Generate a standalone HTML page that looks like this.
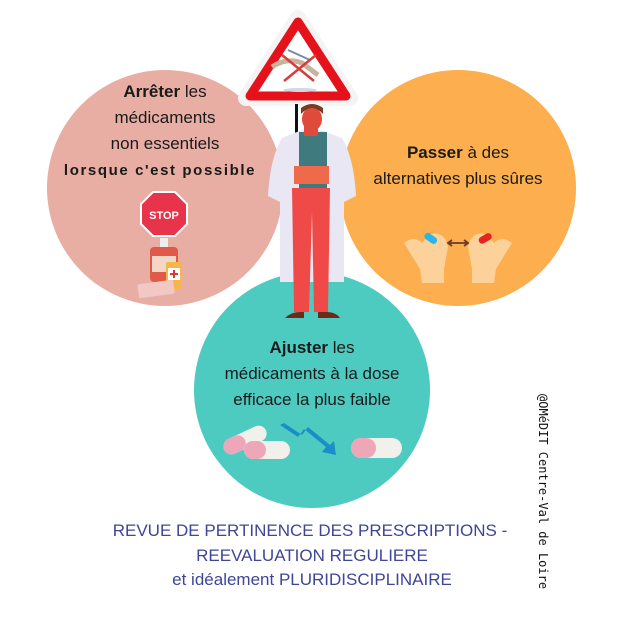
<!DOCTYPE html>
<html><head><meta charset="utf-8"><style>
html,body{margin:0;padding:0;background:#fff;width:628px;height:630px;overflow:hidden}
svg{display:block}
.t{font-family:"Liberation Sans",sans-serif;fill:#1a1a1a}
</style></head><body>
<svg width="628" height="630" viewBox="0 0 628 630" xmlns="http://www.w3.org/2000/svg">
<circle cx="165" cy="188" r="118" fill="#e8ada3"/>
<circle cx="458" cy="188" r="118" fill="#fdae4f"/>
<circle cx="312" cy="390" r="118" fill="#4ecbc1"/>

<!-- left text -->
<text class="t" x="165" y="97" font-size="17" text-anchor="middle"><tspan font-weight="bold">Arrêter</tspan> les</text>
<text class="t" x="165" y="123" font-size="17" text-anchor="middle">médicaments</text>
<text class="t" x="165" y="149" font-size="17" text-anchor="middle">non essentiels</text>
<text class="t" x="160" y="175" font-size="15" font-weight="bold" letter-spacing="1.6" text-anchor="middle">lorsque c'est possible</text>
<!-- stop sign -->
<polygon points="153,192 175,192 187,204 187,224 175,236 153,236 141,224 141,204" fill="#e8344a" stroke="#fff" stroke-width="2"/>
<text x="164" y="219" font-family="Liberation Sans,sans-serif" font-size="11" font-weight="bold" fill="#fff" text-anchor="middle">STOP</text>
<rect x="160" y="238" width="8" height="10" fill="#eee"/>
<rect x="150" y="247" width="28" height="35" rx="4" fill="#e05a4a"/>
<rect x="152" y="256" width="24" height="16" fill="#f3d6c6"/>
<rect x="166" y="262" width="16" height="28" rx="2" fill="#f7b64a"/>
<rect x="168" y="268" width="12" height="12" fill="#fff"/>
<path d="M174 270v8M170 274h8" stroke="#e0343a" stroke-width="2"/>
<rect x="138" y="282" width="36" height="14" rx="2" fill="#f1c8c4" transform="rotate(-8 156 289)"/>

<!-- right text -->
<text class="t" x="458" y="158" font-size="17" text-anchor="middle"><tspan font-weight="bold">Passer</tspan> à des</text>
<text class="t" x="458" y="184" font-size="17" text-anchor="middle">alternatives plus sûres</text>
<!-- hands -->
<g fill="#fcd19a">
<path d="M404 243 q10 -8 18 0 l6 -8 q16 -6 20 12 l-4 22 v14 h-22 l-2 -14 z"/>
<path d="M512 243 q-10 -8 -18 0 l-6 -8 q-16 -6 -20 12 l4 22 v14 h22 l2 -14 z"/>
</g>
<rect x="424" y="235" width="14" height="7" rx="3.5" fill="#29b6e8" transform="rotate(35 431 238)"/>
<rect x="478" y="235" width="14" height="7" rx="3.5" fill="#e52420" transform="rotate(-30 485 238)"/>
<path d="M448 243h20M452 240l-4 3 4 3M464 240l4 3-4 3" stroke="#6b3a2a" stroke-width="1.8" fill="none"/>

<!-- bottom text -->
<text class="t" x="312" y="353" font-size="17" text-anchor="middle"><tspan font-weight="bold">Ajuster</tspan> les</text>
<text class="t" x="312" y="379" font-size="17" text-anchor="middle">médicaments à la dose</text>
<text class="t" x="312" y="405" font-size="17" text-anchor="middle">efficace la plus faible</text>
<!-- pills -->
<g transform="rotate(-25 245 440)"><rect x="222" y="432" width="46" height="16" rx="8" fill="#f1f0ea"/><rect x="222" y="432" width="23" height="16" rx="8" fill="#eea7b8"/></g>
<rect x="244" y="441" width="46" height="18" rx="9" fill="#f1f0ea"/><rect x="244" y="441" width="22" height="18" rx="9" fill="#eea7b8"/>
<rect x="351" y="438" width="51" height="20" rx="10" fill="#f1f0ea"/><rect x="351" y="438" width="25" height="20" rx="10" fill="#eea7b8"/>
<path d="M280 425 l18 12 l6 -8 l22 18 l-4 5 l14 3 l-2 -14 l-4 4 l-22 -18 l-6 8 l-18 -12z" fill="#1b8dc8"/>

<!-- warning sign -->
<path d="M298 18 L350 98 L246 98 Z" fill="#fff" stroke="#f4f4f4" stroke-width="16" stroke-linejoin="round"/>
<path d="M298 22 L346 96 L250 96 Z" fill="#fff" stroke="#e5121b" stroke-width="9" stroke-linejoin="round"/>
<path d="M272 67 q14 -10 30 -4 l16 12" stroke="#c9b39a" stroke-width="5" fill="none"/>
<path d="M288 50 l22 10" stroke="#7a8aa8" stroke-width="2"/>
<path d="M282 55 l32 26 M316 55 l-32 26" stroke="#d93c3c" stroke-width="2.5"/>
<ellipse cx="300" cy="90" rx="17" ry="2" fill="#cfd8e6"/>
<rect x="295" y="104" width="3" height="62" fill="#111"/>
<!-- doctor -->
<path d="M282 138 q-12 20 -14 58 l12 6 v80 h64 v-80 l12 -6 q-2 -38 -14 -58 l-22 -8 h-18 z" fill="#e8e7f3"/>
<rect x="299" y="132" width="28" height="58" fill="#3e7a7e"/>
<rect x="304" y="120" width="14" height="16" fill="#e04a3a"/>
<ellipse cx="312" cy="119" rx="10" ry="12" fill="#e04a3a"/>
<path d="M301 114 q11 -12 22 0 v-6 q-11 -8 -22 0z" fill="#7a3b1e"/>
<rect x="294" y="166" width="35" height="18" fill="#ef6a4a"/>
<path d="M292 188 h38 l-2 124 h-14 l-2 -100 l-3 100 h-15 z" fill="#ef4a48"/>
<path d="M285 318 q6 -6 15 -6 h4 v6z M318 312 h8 q10 0 14 6 h-22z" fill="#6b2a1a"/>

<!-- bottom caption -->
<g font-family="Liberation Sans,sans-serif" font-size="17" fill="#3f4597" text-anchor="middle">
<text x="310" y="536">REVUE DE PERTINENCE DES PRESCRIPTIONS -</text>
<text x="312" y="561">REEVALUATION REGULIERE</text>
<text x="312" y="585">et idéalement PLURIDISCIPLINAIRE</text>
</g>
<text transform="translate(539 394) rotate(90)" font-family="DejaVu Sans Mono,monospace" font-size="12" fill="#111">@OMéDIT Centre-Val de Loire</text>
</svg>
</body></html>
